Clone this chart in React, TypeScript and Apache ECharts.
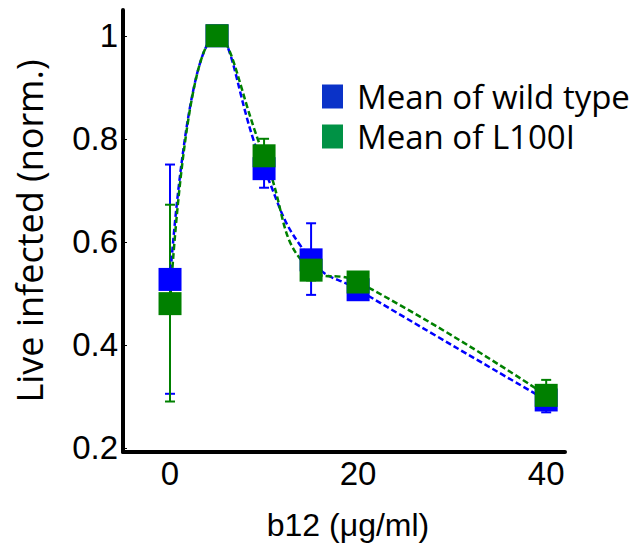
import React, { useEffect, useRef } from "react";
import * as echarts from "echarts";

const doses = [0, 5, 10, 15, 20, 40];
const wildTypeMean = [0.527, 1.0, 0.742, 0.565, 0.507, 0.293];
const wildTypeLow = [0.305, 0.99, 0.705, 0.497, 0.497, 0.269];
const wildTypeHigh = [0.75, 1.01, 0.78, 0.636, 0.517, 0.317];
const l100iMean = [0.48, 1.0, 0.767, 0.545, 0.522, 0.302];
const l100iLow = [0.29, 0.99, 0.734, 0.525, 0.512, 0.278];
const l100iHigh = [0.672, 1.01, 0.8, 0.565, 0.532, 0.332];
const xTicks = [0, 20, 40];
const yTicks = [0.2, 0.4, 0.6, 0.8, 1];
const seriesNames = ["Mean of wild type", "Mean of L100I"];

const BLUE = "#0000ff";
const GREEN = "#008000";

function errRender(color: string) {
  return (params: any, api: any) => {
    const x = api.value(0);
    const lo = api.coord([x, api.value(1)]);
    const hi = api.coord([x, api.value(2)]);
    const w = 5;
    const style = { stroke: color, lineWidth: 2 };
    return {
      type: "group",
      children: [
        { type: "line", shape: { x1: lo[0], y1: lo[1], x2: hi[0], y2: hi[1] }, style },
        { type: "line", shape: { x1: lo[0] - w, y1: lo[1], x2: lo[0] + w, y2: lo[1] }, style },
        { type: "line", shape: { x1: hi[0] - w, y1: hi[1], x2: hi[0] + w, y2: hi[1] }, style },
      ],
    };
  };
}

export default function App() {
  const ref = useRef<HTMLDivElement>(null);
  useEffect(() => {
    if (!ref.current) return;
    const chart = echarts.init(ref.current, undefined, { renderer: "svg" });
    const lineData = (vals: number[]) => doses.map((d, i) => [d, vals[i]]);
    const errData = (lo: number[], hi: number[]) => doses.map((d, i) => [d, lo[i], hi[i]]);
    const lineSeries = (name: string, vals: number[], color: string) => ({
      name,
      type: "line",
      data: lineData(vals),
      smooth: 0.5,
      symbol: "rect",
      symbolSize: [23, 23],
      itemStyle: { color },
      lineStyle: { color, width: 2.5, type: [6, 3] },
    });
    const errSeries = (name: string, lo: number[], hi: number[], color: string) => ({
      name,
      type: "custom",
      renderItem: errRender(color),
      encode: { x: 0, y: [1, 2] },
      data: errData(lo, hi),
    });
    chart.setOption({
      animation: false,
      textStyle: { fontFamily: "Liberation Sans" },
      grid: { left: 123, right: 67, top: 10, bottom: 93, outerBoundsMode: "none", containLabel: false },
      legend: {
        orient: "vertical",
        left: 322,
        top: 80,
        padding: 0,
        icon: "rect",
        itemWidth: 21,
        itemHeight: 24,
        itemGap: 7,
        selectedMode: false,
        textStyle: {
          fontFamily: "Open Sans",
          fontSize: 33,
          color: "#000",
          padding: [0, 0, 0, 9],
        },
        data: [
          { name: seriesNames[0], itemStyle: { color: "#0a32c8" } },
          { name: seriesNames[1], itemStyle: { color: "#009245" } },
        ],
      },
      xAxis: {
        type: "value",
        min: -5,
        max: 42,
        name: "b12 (μg/ml)",
        nameLocation: "middle",
        nameGap: 57,
        nameTextStyle: { fontSize: 32, color: "#000", padding: [0, 0, 0, 8] },
        axisLine: { show: true, onZero: false, lineStyle: { color: "#000", width: 4 } },
        axisTick: { show: false },
        splitLine: { show: false },
        axisLabel: { customValues: xTicks, fontSize: 33, color: "#000", margin: 5 },
      },
      yAxis: {
        type: "value",
        min: 0.192,
        max: 1.05,
        name: "Live infected (norm.)",
        nameLocation: "middle",
        nameRotate: 90,
        nameGap: 76,
        nameTextStyle: { fontFamily: "Open Sans", fontSize: 36, color: "#000" },
        axisLine: { show: true, onZero: false, lineStyle: { color: "#000", width: 4 } },
        axisTick: { show: true, inside: true, length: 4, customValues: yTicks, lineStyle: { color: "#000", width: 1 } },
        splitLine: { show: false },
        axisLabel: {
          customValues: yTicks,
          fontSize: 33,
          color: "#000",
          margin: 5,
          formatter: (v: number) => (Math.abs(v - 1) < 1e-9 ? "1" : String(Math.round(v * 10) / 10)),
        },
      },
      series: [
        lineSeries(seriesNames[0], wildTypeMean, BLUE),
        errSeries("wild type error", wildTypeLow, wildTypeHigh, BLUE),
        lineSeries(seriesNames[1], l100iMean, GREEN),
        errSeries("L100I error", l100iLow, l100iHigh, GREEN),
      ],
    });
    return () => chart.dispose();
  }, []);
  return (
    <div
      ref={ref}
      style={{ position: "fixed", left: 0, top: 0, width: 632, height: 545, background: "#fff" }}
    />
  );
}
